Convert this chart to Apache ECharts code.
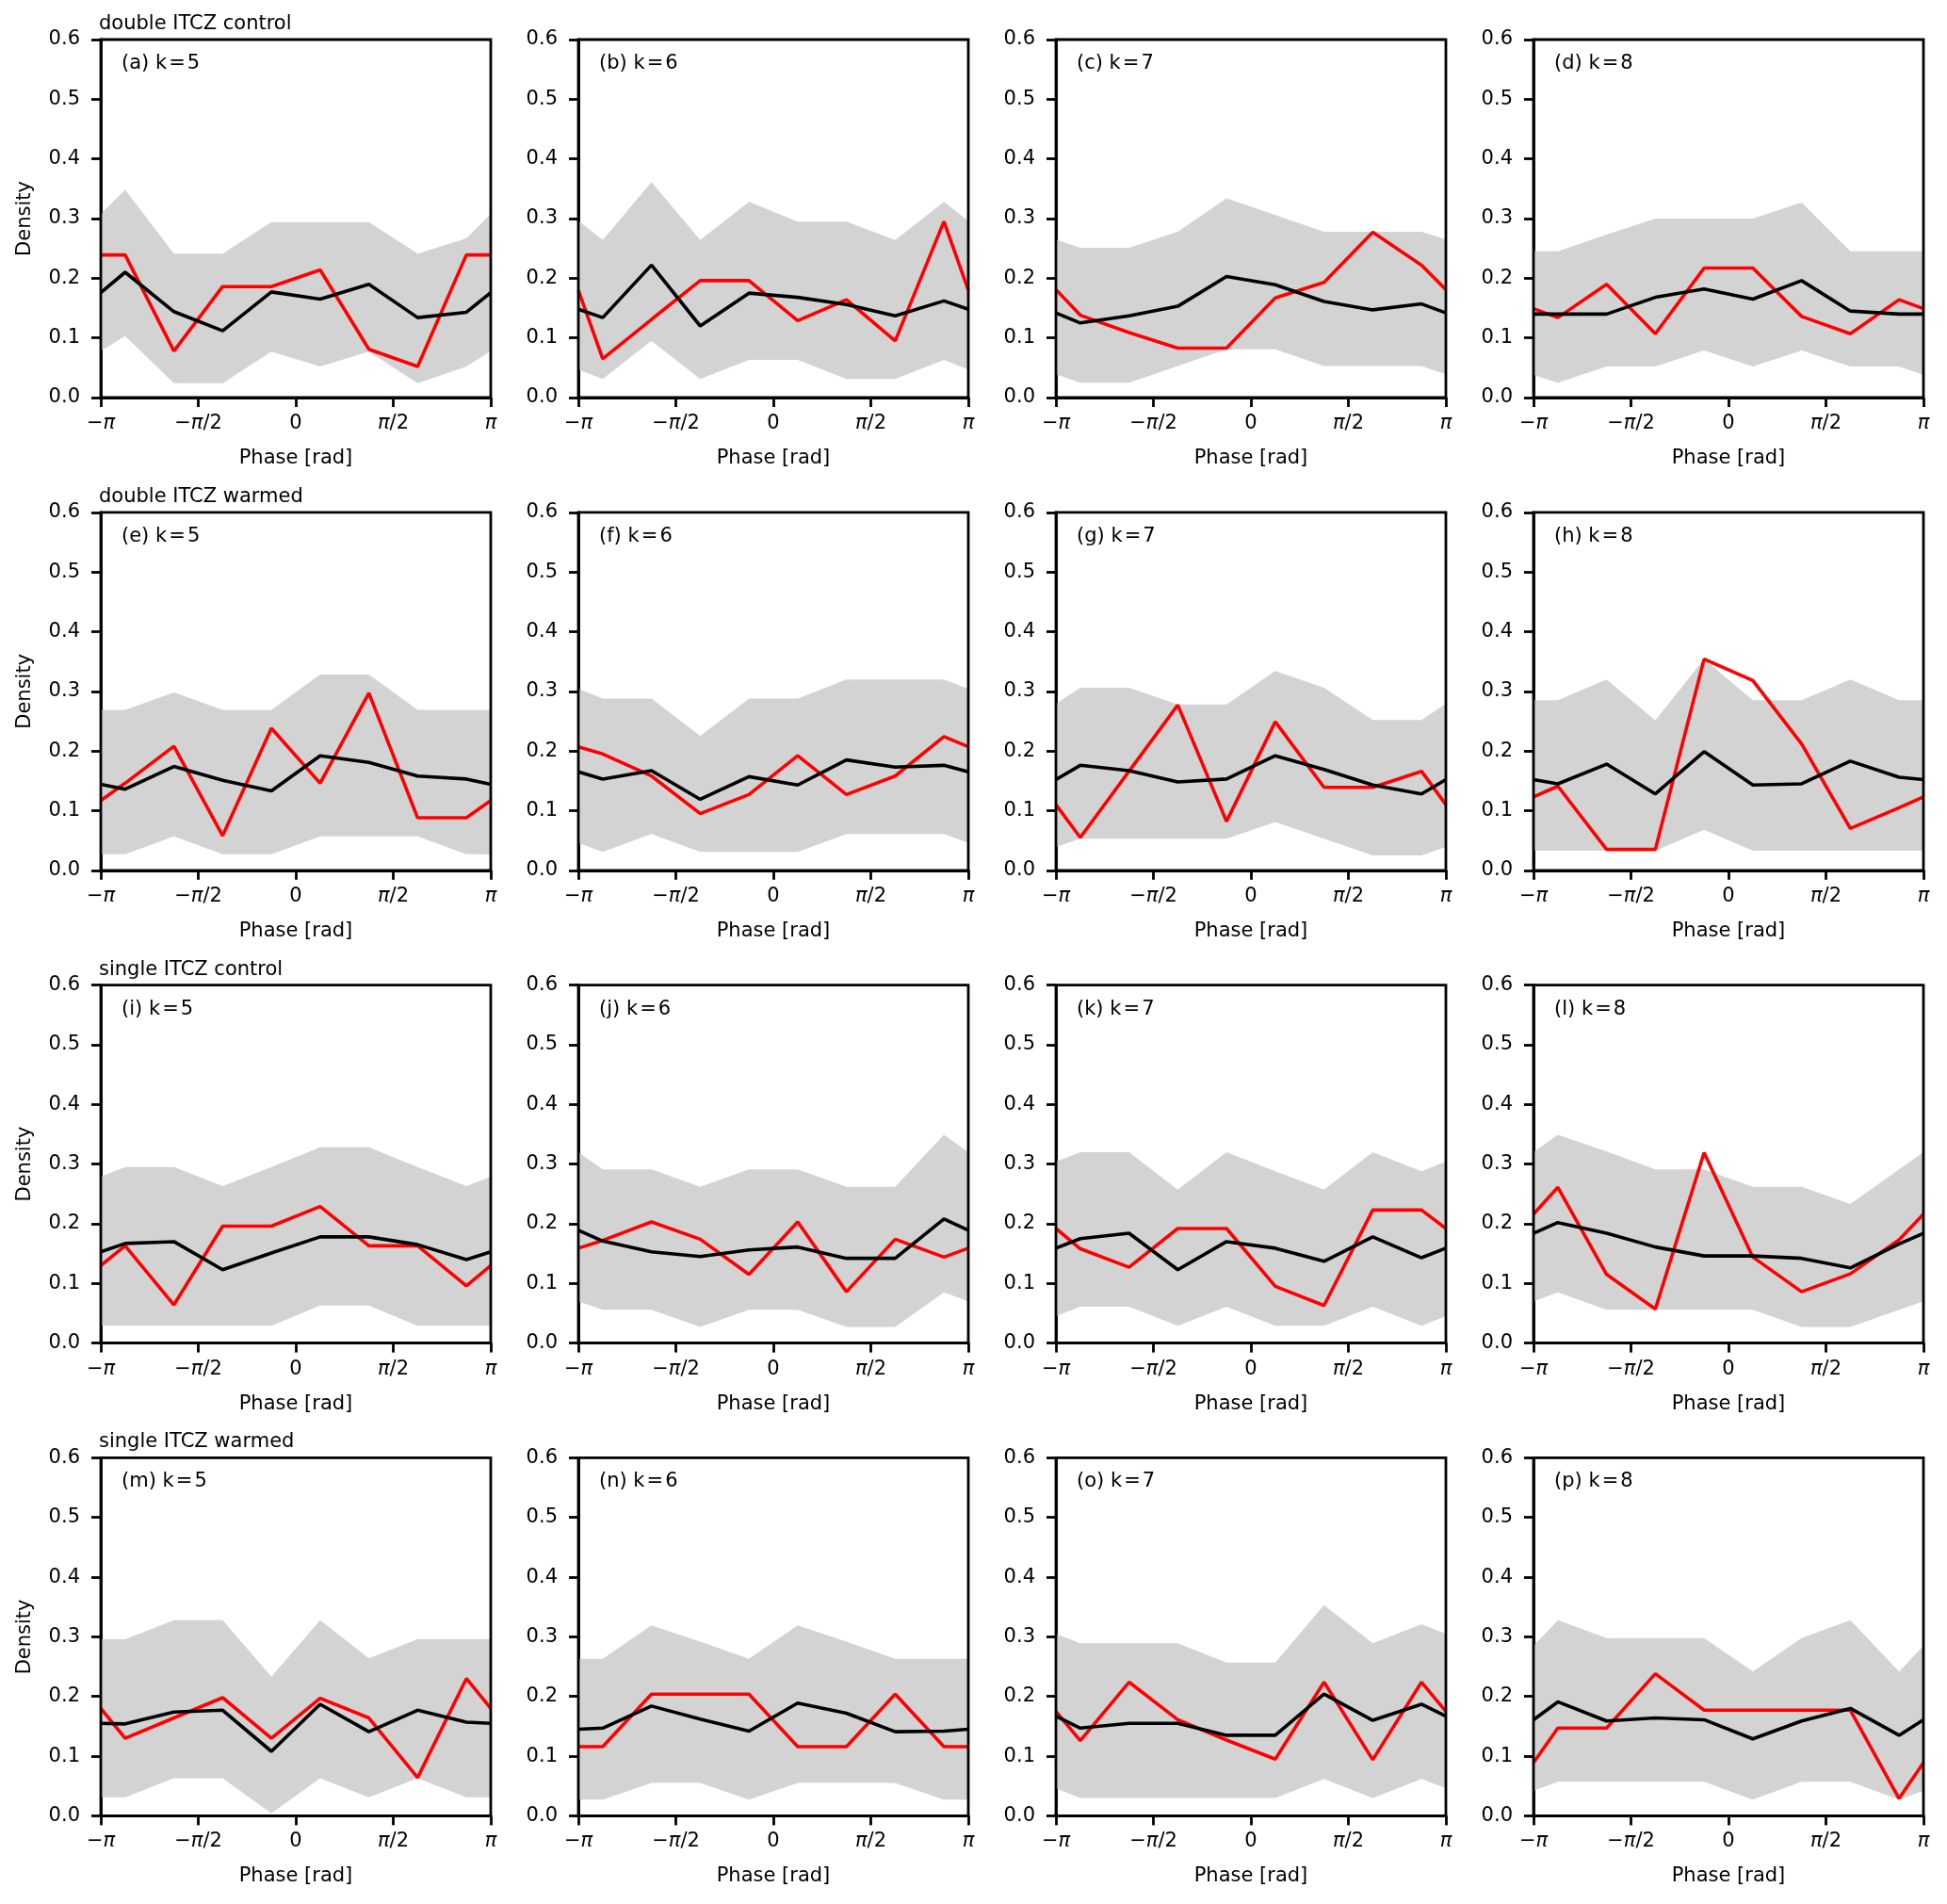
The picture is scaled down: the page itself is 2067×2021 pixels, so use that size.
<!DOCTYPE html>
<html>
<head>
<meta charset="utf-8">
<script src="https://cdn.jsdelivr.net/npm/echarts@6/dist/echarts.min.js"></script>
<style>
html,body{margin:0;padding:0;background:#fff;}
#chart{width:2067px;height:2021px;}
</style>
</head>
<body>
<div id="chart"></div>
<script>
// Phase positions (in units of pi): -pi, bin centres, +pi
const PHASE = [-1, -0.875, -0.625, -0.375, -0.125, 0.125, 0.375, 0.625, 0.875, 1];
const X_TICKS = {'-1': '{t|−}{p|π}', '-0.5': '{t|−}{p|π}{t|/2}', '0': '{t|0}', '0.5': '{p|π}{t|/2}', '1': '{p|π}'};
const ROW_TITLES = ['double ITCZ control', 'double ITCZ warmed', 'single ITCZ control', 'single ITCZ warmed'];
const PANEL_LABELS = ['(a)', '(b)', '(c)', '(d)', '(e)', '(f)', '(g)', '(h)', '(i)', '(j)', '(k)', '(l)', '(m)', '(n)', '(o)', '(p)'];
const K_VALUES = [5, 6, 7, 8];

// (a)
const hi_a = [0.308, 0.348, 0.241, 0.241, 0.294, 0.294, 0.294, 0.241, 0.267, 0.308];
const lo_a = [0.078, 0.103, 0.024, 0.024, 0.077, 0.052, 0.077, 0.024, 0.052, 0.078];
const mean_a = [0.176, 0.210, 0.144, 0.112, 0.177, 0.165, 0.190, 0.134, 0.143, 0.176];
const obs_a = [0.239, 0.239, 0.078, 0.186, 0.186, 0.214, 0.081, 0.052, 0.239, 0.239];
// (b)
const hi_b = [0.296, 0.264, 0.361, 0.264, 0.328, 0.295, 0.295, 0.264, 0.328, 0.296];
const lo_b = [0.047, 0.031, 0.095, 0.031, 0.063, 0.063, 0.031, 0.031, 0.063, 0.047];
const mean_b = [0.148, 0.134, 0.222, 0.120, 0.175, 0.168, 0.156, 0.137, 0.162, 0.148];
const obs_b = [0.180, 0.065, 0.131, 0.196, 0.196, 0.129, 0.164, 0.095, 0.295, 0.180];
// (c)
const hi_c = [0.265, 0.251, 0.251, 0.278, 0.334, 0.306, 0.278, 0.278, 0.278, 0.265];
const lo_c = [0.039, 0.025, 0.025, 0.053, 0.081, 0.081, 0.053, 0.053, 0.053, 0.039];
const mean_c = [0.142, 0.125, 0.137, 0.153, 0.203, 0.189, 0.161, 0.147, 0.157, 0.142];
const obs_c = [0.181, 0.138, 0.109, 0.083, 0.083, 0.167, 0.193, 0.277, 0.222, 0.181];
// (d)
const hi_d = [0.245, 0.245, 0.273, 0.300, 0.300, 0.300, 0.327, 0.245, 0.245, 0.245];
const lo_d = [0.038, 0.025, 0.052, 0.052, 0.079, 0.052, 0.079, 0.052, 0.052, 0.038];
const mean_d = [0.140, 0.140, 0.140, 0.168, 0.182, 0.165, 0.196, 0.145, 0.140, 0.140];
const obs_d = [0.149, 0.134, 0.190, 0.107, 0.217, 0.217, 0.136, 0.107, 0.164, 0.149];
// (e)
const hi_e = [0.269, 0.269, 0.298, 0.269, 0.269, 0.328, 0.328, 0.269, 0.269, 0.269];
const lo_e = [0.027, 0.027, 0.057, 0.027, 0.027, 0.057, 0.057, 0.057, 0.027, 0.027];
const mean_e = [0.144, 0.136, 0.174, 0.151, 0.133, 0.192, 0.181, 0.158, 0.153, 0.144];
const obs_e = [0.117, 0.146, 0.208, 0.058, 0.238, 0.146, 0.297, 0.088, 0.088, 0.117];
// (f)
const hi_f = [0.304, 0.288, 0.288, 0.225, 0.288, 0.288, 0.320, 0.320, 0.320, 0.304];
const lo_f = [0.046, 0.031, 0.061, 0.031, 0.031, 0.031, 0.061, 0.061, 0.061, 0.046];
const mean_f = [0.165, 0.153, 0.167, 0.119, 0.157, 0.143, 0.185, 0.173, 0.176, 0.165];
const obs_f = [0.207, 0.195, 0.158, 0.095, 0.127, 0.192, 0.127, 0.158, 0.224, 0.207];
// (g)
const hi_g = [0.279, 0.306, 0.306, 0.278, 0.278, 0.334, 0.306, 0.252, 0.252, 0.279];
const lo_g = [0.039, 0.053, 0.053, 0.053, 0.053, 0.081, 0.053, 0.025, 0.025, 0.039];
const mean_g = [0.152, 0.176, 0.167, 0.148, 0.153, 0.192, 0.169, 0.143, 0.128, 0.152];
const obs_g = [0.110, 0.055, 0.166, 0.277, 0.082, 0.249, 0.139, 0.139, 0.166, 0.110];
// (h)
const hi_h = [0.285, 0.285, 0.320, 0.251, 0.354, 0.285, 0.285, 0.320, 0.285, 0.285];
const lo_h = [0.033, 0.033, 0.033, 0.033, 0.068, 0.033, 0.033, 0.033, 0.033, 0.033];
const mean_h = [0.152, 0.145, 0.178, 0.128, 0.199, 0.143, 0.145, 0.183, 0.156, 0.152];
const obs_h = [0.123, 0.141, 0.035, 0.035, 0.354, 0.318, 0.212, 0.070, 0.105, 0.123];
// (i)
const hi_i = [0.279, 0.295, 0.295, 0.263, 0.295, 0.328, 0.328, 0.295, 0.263, 0.279];
const lo_i = [0.029, 0.029, 0.029, 0.029, 0.029, 0.063, 0.063, 0.029, 0.029, 0.029];
const mean_i = [0.153, 0.167, 0.170, 0.123, 0.151, 0.178, 0.178, 0.165, 0.140, 0.153];
const obs_i = [0.130, 0.163, 0.064, 0.196, 0.196, 0.229, 0.163, 0.163, 0.096, 0.130];
// (j)
const hi_j = [0.320, 0.291, 0.291, 0.262, 0.291, 0.291, 0.262, 0.262, 0.349, 0.320];
const lo_j = [0.070, 0.056, 0.056, 0.027, 0.056, 0.056, 0.027, 0.027, 0.085, 0.070];
const mean_j = [0.189, 0.171, 0.153, 0.145, 0.156, 0.161, 0.142, 0.142, 0.208, 0.189];
const obs_j = [0.159, 0.172, 0.203, 0.174, 0.115, 0.203, 0.086, 0.174, 0.144, 0.159];
// (k)
const hi_k = [0.304, 0.320, 0.320, 0.257, 0.320, 0.288, 0.257, 0.320, 0.288, 0.304];
const lo_k = [0.045, 0.061, 0.061, 0.029, 0.061, 0.029, 0.029, 0.061, 0.029, 0.045];
const mean_k = [0.159, 0.175, 0.184, 0.123, 0.170, 0.159, 0.137, 0.178, 0.143, 0.159];
const obs_k = [0.192, 0.158, 0.127, 0.192, 0.192, 0.095, 0.063, 0.223, 0.223, 0.192];
// (l)
const hi_l = [0.320, 0.349, 0.321, 0.291, 0.291, 0.262, 0.262, 0.233, 0.291, 0.320];
const lo_l = [0.070, 0.085, 0.056, 0.056, 0.056, 0.056, 0.027, 0.027, 0.056, 0.070];
const mean_l = [0.184, 0.202, 0.184, 0.161, 0.146, 0.146, 0.142, 0.126, 0.166, 0.184];
const obs_l = [0.216, 0.261, 0.115, 0.057, 0.319, 0.144, 0.086, 0.116, 0.173, 0.216];
// (m)
const hi_m = [0.296, 0.296, 0.328, 0.328, 0.233, 0.328, 0.264, 0.296, 0.296, 0.296];
const lo_m = [0.031, 0.031, 0.063, 0.063, 0.004, 0.063, 0.031, 0.063, 0.031, 0.031];
const mean_m = [0.155, 0.154, 0.174, 0.177, 0.108, 0.187, 0.141, 0.177, 0.157, 0.155];
const obs_m = [0.180, 0.130, 0.164, 0.198, 0.130, 0.197, 0.164, 0.064, 0.230, 0.180];
// (n)
const hi_n = [0.263, 0.263, 0.319, 0.292, 0.263, 0.319, 0.292, 0.263, 0.263, 0.263];
const lo_n = [0.027, 0.027, 0.055, 0.055, 0.027, 0.055, 0.055, 0.055, 0.027, 0.027];
const mean_n = [0.145, 0.147, 0.184, 0.162, 0.142, 0.189, 0.172, 0.141, 0.142, 0.145];
const obs_n = [0.116, 0.116, 0.204, 0.204, 0.204, 0.116, 0.116, 0.204, 0.116, 0.116];
// (o)
const hi_o = [0.305, 0.289, 0.289, 0.289, 0.257, 0.257, 0.353, 0.289, 0.321, 0.305];
const lo_o = [0.046, 0.030, 0.030, 0.030, 0.030, 0.030, 0.062, 0.030, 0.062, 0.046];
const mean_o = [0.167, 0.147, 0.155, 0.155, 0.135, 0.135, 0.204, 0.160, 0.187, 0.167];
const obs_o = [0.175, 0.126, 0.224, 0.161, 0.127, 0.095, 0.224, 0.094, 0.224, 0.175];
// (p)
const hi_p = [0.285, 0.328, 0.298, 0.298, 0.298, 0.242, 0.298, 0.328, 0.242, 0.285];
const lo_p = [0.042, 0.057, 0.057, 0.057, 0.057, 0.027, 0.057, 0.057, 0.027, 0.042];
const mean_p = [0.161, 0.191, 0.159, 0.164, 0.161, 0.129, 0.159, 0.180, 0.135, 0.161];
const obs_p = [0.089, 0.147, 0.147, 0.238, 0.177, 0.177, 0.177, 0.177, 0.029, 0.089];

const PANELS = [
  [hi_a, lo_a, mean_a, obs_a], [hi_b, lo_b, mean_b, obs_b], [hi_c, lo_c, mean_c, obs_c], [hi_d, lo_d, mean_d, obs_d],
  [hi_e, lo_e, mean_e, obs_e], [hi_f, lo_f, mean_f, obs_f], [hi_g, lo_g, mean_g, obs_g], [hi_h, lo_h, mean_h, obs_h],
  [hi_i, lo_i, mean_i, obs_i], [hi_j, lo_j, mean_j, obs_j], [hi_k, lo_k, mean_k, obs_k], [hi_l, lo_l, mean_l, obs_l],
  [hi_m, lo_m, mean_m, obs_m], [hi_n, lo_n, mean_n, obs_n], [hi_o, lo_o, mean_o, obs_o], [hi_p, lo_p, mean_p, obs_p]
];

const FONT = 'DejaVu Sans';
const FS = 21;
const GRID_LEFT0 = 107, GRID_DX = 507, GRID_W = 414;
const GRID_TOP0 = 42, GRID_DY = 501.8, GRID_H = 380;

const grids = [], xAxes = [], yAxes = [], series = [], titles = [];

PANELS.forEach((p, i) => {
  const r = Math.floor(i / 4), c = i % 4;
  const left = GRID_LEFT0 + GRID_DX * c;
  const top = GRID_TOP0 + GRID_DY * r;
  grids.push({left: left, top: top, width: GRID_W, height: GRID_H, show: true,
    borderColor: '#000', borderWidth: 2.8, backgroundColor: 'transparent', z: 10, containLabel: false});
  xAxes.push({
    type: 'value', gridIndex: i, min: -1, max: 1, interval: 0.5,
    splitLine: {show: false},
    axisLine: {show: true, onZero: false, lineStyle: {color: '#000', width: 2.8}},
    axisTick: {show: true, inside: false, length: 10, lineStyle: {color: '#000', width: 2.8}},
    axisLabel: {
      margin: 17, color: '#000', fontFamily: FONT, fontSize: FS,
      formatter: v => X_TICKS[String(Math.round(v * 2) / 2)] || '',
      rich: {
        t: {fontFamily: FONT, fontSize: FS, color: '#000'},
        p: {fontFamily: FONT, fontSize: FS, fontStyle: 'italic', color: '#000'}
      }
    },
    name: 'Phase [rad]', nameLocation: 'middle', nameGap: 54,
    nameTextStyle: {fontFamily: FONT, fontSize: FS, color: '#000'}
  });
  yAxes.push({
    type: 'value', gridIndex: i, min: 0, max: 0.6, interval: 0.1,
    splitLine: {show: false},
    axisLine: {show: true, onZero: false, lineStyle: {color: '#000', width: 2.8}},
    axisTick: {show: true, inside: false, length: 10, lineStyle: {color: '#000', width: 2.8}},
    axisLabel: {margin: 22, color: '#000', fontFamily: FONT, fontSize: FS, formatter: v => v.toFixed(1)},
    name: c === 0 ? 'Density' : '', nameLocation: 'middle', nameGap: 70,
    nameTextStyle: {fontFamily: FONT, fontSize: FS, color: '#000'}
  });
  const hi = p[0], lo = p[1], mean = p[2], obs = p[3];
  series.push({
    type: 'custom', xAxisIndex: i, yAxisIndex: i, silent: true, z: 1,
    data: PHASE.map((x, j) => [x, lo[j], hi[j]]),
    renderItem: (params, api) => {
      if (params.dataIndex !== 0) return null;
      const pts = [];
      for (let j = 0; j < PHASE.length; j++) pts.push(api.coord([PHASE[j], hi[j]]));
      for (let j = PHASE.length - 1; j >= 0; j--) pts.push(api.coord([PHASE[j], lo[j]]));
      return {type: 'polygon', shape: {points: pts}, style: {fill: '#d3d3d3'}};
    }
  });
  series.push({
    type: 'line', xAxisIndex: i, yAxisIndex: i, silent: true, z: 3,
    data: PHASE.map((x, j) => [x, obs[j]]), symbol: 'none',
    lineStyle: {color: '#ff0000', width: 3.6}
  });
  series.push({
    type: 'line', xAxisIndex: i, yAxisIndex: i, silent: true, z: 4,
    data: PHASE.map((x, j) => [x, mean[j]]), symbol: 'none',
    lineStyle: {color: '#000000', width: 3.6}
  });
  titles.push({
    text: PANEL_LABELS[i] + ' k\u200A=\u200A' + K_VALUES[c],
    left: left + 22, top: top + 15, padding: 0,
    textStyle: {fontFamily: FONT, fontSize: FS, fontWeight: 'normal', color: '#000'}
  });
  if (c === 0) {
    titles.push({
      text: ROW_TITLES[r], left: left - 2, top: top - 27, padding: 0,
      textStyle: {fontFamily: FONT, fontSize: FS, fontWeight: 'normal', color: '#000'}
    });
  }
});

const chart = echarts.init(document.getElementById('chart'), null, {renderer: 'canvas'});
chart.setOption({
  backgroundColor: '#fff',
  animation: false,
  title: titles,
  grid: grids,
  xAxis: xAxes,
  yAxis: yAxes,
  series: series
});
</script>
</body>
</html>
